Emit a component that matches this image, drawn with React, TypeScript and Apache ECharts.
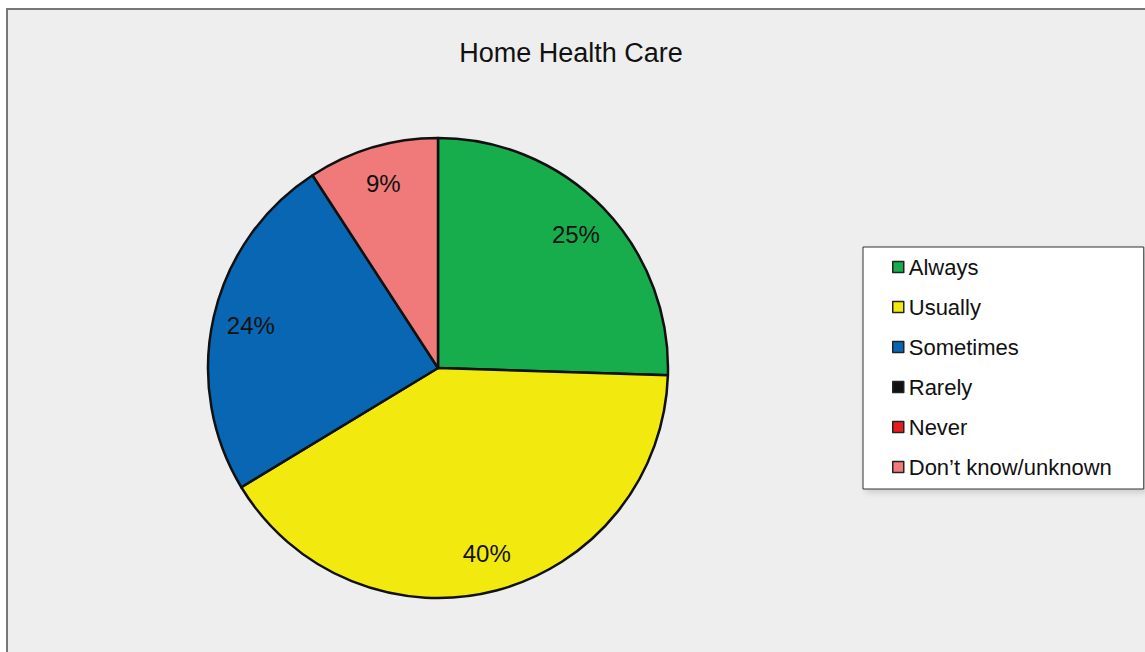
import React, { useEffect, useRef } from "react";
import * as echarts from "echarts";

const TITLE = "Home Health Care";
const CATEGORIES = ["Always", "Usually", "Sometimes", "Rarely", "Never", "Don\u2019t know/unknown"];
const VALUES = [25, 40, 24, 0, 0, 9];
const COLORS = ["#17ad4d", "#f2ea0f", "#0866b3", "#111111", "#e81c1c", "#f07a7a"];

export default function App() {
  const ref = useRef<HTMLDivElement>(null);
  useEffect(() => {
    if (!ref.current) return;
    const chart = echarts.init(ref.current, undefined, { renderer: "svg" });
    const font = "'Liberation Sans', Arial, sans-serif";
    const mainData = CATEGORIES.map((name, i) => ({
      name,
      value: VALUES[i],
      itemStyle: {
        color: COLORS[i],
        borderColor: "#111",
        borderWidth: VALUES[i] > 0 ? 2.5 : 0,
      },
    }));
    const labelData = CATEGORIES.map((name, i) => ({
      name,
      value: VALUES[i],
      label: { show: VALUES[i] > 0 },
    }));
    chart.setOption({
      animation: false,
      backgroundColor: "#ffffff",
      color: COLORS,
      graphic: [
        {
          type: "rect",
          shape: { x: 7, y: 9, width: 1150, height: 660 },
          style: { fill: "#edeeed", stroke: "#777", lineWidth: 2 },
          z: -10,
        },
      ],
      title: {
        text: TITLE,
        left: 566,
        top: 34,
        textAlign: "center",
        textStyle: { fontFamily: font, fontSize: 27, fontWeight: "normal", color: "#111" },
      },
      legend: {
        orient: "vertical",
        left: 863,
        top: 247,
        padding: [9, 32, 11, 29],
        backgroundColor: "#ffffff",
        borderColor: "#333",
        borderWidth: 1,
        shadowColor: "rgba(0,0,0,0.15)",
        shadowBlur: 6,
        shadowOffsetX: 3,
        shadowOffsetY: 3,
        icon: "rect",
        itemWidth: 11,
        itemHeight: 11,
        itemGap: 18,
        itemStyle: { borderColor: "#222", borderWidth: 1.5 },
        textStyle: { fontFamily: font, fontSize: 22, lineHeight: 20, color: "#111" },
        data: CATEGORIES,
      },
      series: [
        {
          type: "pie",
          center: [438, 368],
          radius: [0, 230],
          startAngle: 90,
          clockwise: true,
          silent: true,
          label: { show: false },
          labelLine: { show: false },
          emphasis: { disabled: true },
          data: mainData,
        },
        {
          type: "pie",
          center: [438, 368],
          radius: [148, 230],
          startAngle: 90,
          clockwise: true,
          silent: true,
          legendHoverLink: false,
          itemStyle: { color: "rgba(0,0,0,0)", borderWidth: 0 },
          label: {
            show: true,
            position: "inside",
            fontFamily: font,
            fontSize: 24,
            color: "#111",
            formatter: (p: any) => p.value + "%",
          },
          labelLine: { show: false },
          emphasis: { disabled: true },
          data: labelData,
          z: 3,
        },
      ],
    });
    return () => chart.dispose();
  }, []);
  return (
    <div
      ref={ref}
      style={{ position: "absolute", left: 0, top: 0, width: 1145, height: 652 }}
    />
  );
}
